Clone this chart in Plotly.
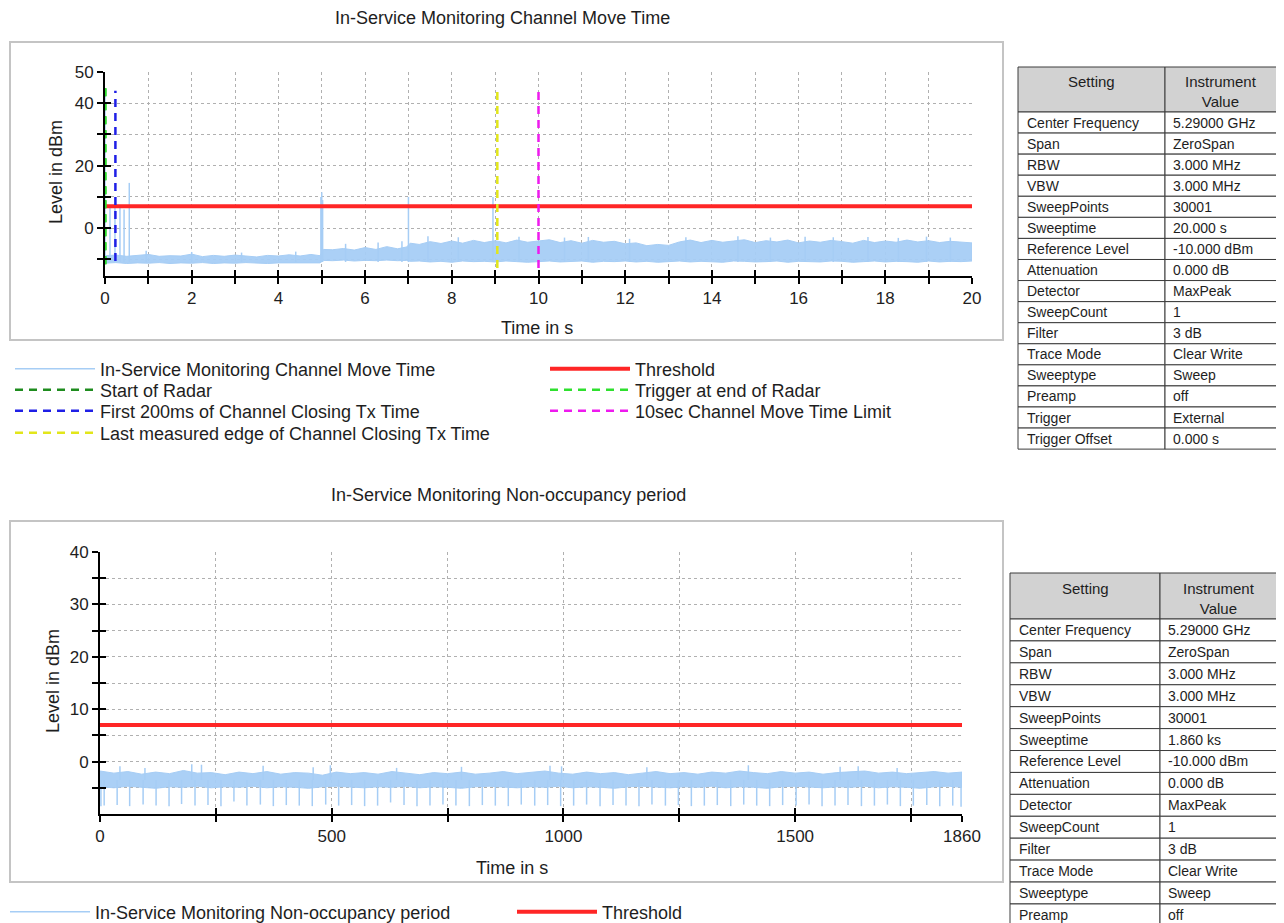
import plotly.graph_objects as go

# The page body adds an 8 px margin, so the figure is sized to the visible window
# minus that margin and reference pixel positions are converted accordingly.
PAGE_OFF = 8
W, H = 1284 - PAGE_OFF, 923 - PAGE_OFF
FONT = "Liberation Sans, Arial, sans-serif"


def px(x):
    return (x - PAGE_OFF) / W


def py(y):
    return 1 - (y - PAGE_OFF) / H


# ---------------- Chart 1 data: In-Service Monitoring Channel Move Time ----------------
cmt_time = [0.00, 0.25, 0.50, 0.75, 1.00, 1.25, 1.50, 1.75, 2.00, 2.25,
            2.50, 2.75, 3.00, 3.25, 3.50, 3.75, 4.00, 4.25, 4.50, 4.75,
            4.96, 5.04,
            5.25, 5.50, 5.75, 6.00, 6.25, 6.50, 6.75,
            6.96, 7.04,
            7.25, 7.50, 7.75, 8.00, 8.25, 8.50, 8.75, 9.00, 9.25, 9.50,
            9.75, 10.00, 10.25, 10.50, 10.75, 11.00, 11.25, 11.50, 11.75, 12.00,
            12.25, 12.50, 12.75, 13.00, 13.25, 13.50, 13.75, 14.00, 14.25, 14.50,
            14.75, 15.00, 15.25, 15.50, 15.75, 16.00, 16.25, 16.50, 16.75, 17.00,
            17.25, 17.50, 17.75, 18.00, 18.25, 18.50, 18.75, 19.00, 19.25, 19.50,
            19.75, 20.00]
cmt_upper = [-8.8, -8.6, -9.0, -8.7, -8.4, -9.0, -8.8, -8.9, -8.3, -9.1,
             -8.7, -9.0, -8.6, -8.9, -9.2, -8.7, -8.9, -8.5, -8.9, -8.4,
             -8.8, -6.8,
             -6.9, -6.5, -7.0, -6.2, -6.8, -5.9, -6.6,
             -6.0, -4.8,
             -5.2, -4.3, -4.9, -4.1, -4.8, -3.9, -4.6, -4.0, -4.7, -3.8,
             -4.5, -4.2, -3.7, -4.6, -4.0, -4.8, -3.9, -4.5, -4.2, -5.0,
             -4.7, -5.6, -5.2, -5.5, -4.4, -3.8, -4.6, -3.9, -4.5, -4.1,
             -3.7, -4.6, -4.0, -4.4, -3.8, -4.7, -4.1, -4.5, -3.9, -4.3,
             -4.8, -3.9, -4.6, -4.1, -4.5, -3.8, -4.4, -4.0, -4.6, -4.2,
             -4.5, -4.7]
cmt_lower = [-11.2, -11.0, -11.3, -11.1, -11.2, -11.0, -11.3, -11.1, -11.2, -11.0,
             -11.3, -11.1, -11.2, -11.0, -11.2, -11.3, -11.1, -11.0, -11.2, -11.1,
             -11.1, -10.3,
             -10.4, -10.2, -10.5, -10.3, -10.4, -10.2, -10.4,
             -10.3, -10.6,
             -10.5, -10.8, -10.6, -10.9, -10.5, -10.7, -10.6, -10.8, -10.5, -10.7,
             -10.9, -10.6, -10.5, -10.8, -10.7, -10.5, -10.9, -10.6, -10.7, -10.5,
             -10.8, -10.6, -10.9, -10.7, -10.5, -10.8, -10.6, -10.7, -10.9, -10.5,
             -10.6, -10.8, -10.7, -10.5, -10.9, -10.6, -10.7, -10.8, -10.5, -10.6,
             -10.9, -10.7, -10.5, -10.8, -10.6, -10.7, -10.9, -10.5, -10.8, -10.6,
             -10.7, -10.5]
cmt_floor = -10.8
cmt_spike_time = [0.00, 0.115, 0.23, 0.345, 0.44, 0.56, 0.95, 2.00, 3.15, 4.40,
                  4.98, 5.00, 5.02, 5.55, 6.30, 6.85, 7.00, 7.45, 8.15, 8.95,
                  9.55, 10.60, 11.15, 12.10, 13.40, 14.60, 15.35, 16.15, 16.80, 17.60,
                  18.30, 18.95, 19.50]
cmt_spike_peak = [44.0, 7.0, 7.2, 7.0, 6.0, 14.5, -7.2, -7.6, -7.8, -7.5,
                  10.0, 11.5, 9.0, -5.0, -4.6, -4.2, 10.0, -2.6, -2.9, 10.0,
                  -2.7, -3.0, -2.8, -3.4, -2.9, -2.6, -3.0, -2.7, -2.9, -2.8,
                  -3.1, -2.7, -3.0]
cmt_threshold = 7.0
cmt_time_range = [0, 20]

marker_names = ["Start of Radar", "Trigger at end of Radar",
                "First 200ms of Channel Closing Tx Time",
                "Last measured edge of Channel Closing Tx Time",
                "10sec Channel Move Time Limit"]
marker_time = [0.0, 0.01, 0.24, 9.05, 10.0]
marker_low = [-11.5, -11.5, -10.5, -12.7, -12.7]
marker_high = [45.0, 45.0, 44.0, 45.0, 45.0]
marker_colors = ["#1e8c1e", "#2ee02e", "#1f1fe6", "#e2e61a", "#ee1aee"]
marker_legend = ["legend2", "legend6", "legend3", "legend4", "legend7"]

cmt_xticks = list(range(0, 21))
cmt_xticklabels = [str(v) if v % 2 == 0 else "" for v in cmt_xticks]
cmt_yticks = [-10, 0, 10, 20, 30, 40, 50]
cmt_yticklabels = ["", "0", "", "20", "", "40", "50"]

# ---------------- Chart 2 data: Non-occupancy period ----------------
nop_time = [0, 30, 60, 90, 120, 150, 180, 210, 240, 270,
            300, 330, 360, 390, 420, 450, 480, 510, 540, 570,
            600, 630, 660, 690, 720, 750, 780, 810, 840, 870,
            900, 930, 960, 990, 1020, 1050, 1080, 1110, 1140, 1170,
            1200, 1230, 1260, 1290, 1320, 1350, 1380, 1410, 1440, 1470,
            1500, 1530, 1560, 1590, 1620, 1650, 1680, 1710, 1740, 1770,
            1800, 1830, 1860]
nop_upper = [-1.8, -2.2, -1.9, -2.4, -2.0, -2.3, -1.7, -2.2, -2.1, -2.5,
             -2.0, -2.3, -1.9, -2.4, -2.1, -2.2, -2.6, -2.0, -2.3, -2.1,
             -2.4, -1.9, -2.2, -2.5, -2.1, -2.3, -2.0, -2.4, -2.2, -1.9,
             -2.3, -2.1, -1.8, -2.2, -2.4, -2.0, -2.3, -2.1, -2.5, -2.2,
             -1.9, -2.3, -2.1, -2.4, -2.0, -2.2, -1.8, -2.1, -2.3, -1.9,
             -2.2, -2.0, -2.4, -2.1, -1.9, -1.8, -2.2, -2.0, -2.3, -2.1,
             -1.9, -2.2, -2.0]
nop_lower = [-4.8, -5.0, -4.7, -4.9, -5.1, -4.8, -4.9, -4.7, -5.0, -4.8,
             -4.9, -4.7, -5.0, -4.8, -4.9, -5.1, -4.8, -4.7, -4.9, -5.0,
             -4.8, -4.9, -4.7, -5.0, -4.8, -4.9, -5.1, -4.8, -4.7, -4.9,
             -5.0, -4.8, -4.9, -4.7, -5.0, -4.8, -4.9, -5.1, -4.8, -4.7,
             -4.9, -5.0, -4.8, -4.9, -4.7, -5.0, -4.8, -4.9, -5.1, -4.8,
             -4.7, -4.9, -5.0, -4.8, -4.9, -4.7, -5.0, -4.8, -4.9, -5.1,
             -4.8, -4.7, -4.9]
nop_dip_time = [2, 9, 37, 64, 93, 121, 149, 176, 205, 233,
                261, 289, 317, 346, 374, 402, 430, 458, 487, 515,
                543, 571, 599, 627, 656, 684, 712, 740, 768, 797,
                825, 853, 881, 909, 938, 966, 994, 1022, 1050, 1079,
                1107, 1135, 1163, 1191, 1220, 1248, 1276, 1304, 1332, 1361,
                1389, 1417, 1445, 1473, 1502, 1530, 1558, 1586, 1614, 1643,
                1671, 1699, 1727, 1755, 1784, 1812, 1840, 1858]
nop_dip_level = [-8.5, -8.4, -8.3, -8.5, -8.2, -8.4, -8.5, -8.1, -8.4, -8.3,
                 -8.5, -7.6, -8.4, -8.2, -8.5, -8.3, -8.4, -8.5, -8.2, -8.4,
                 -8.3, -8.5, -8.4, -7.8, -8.3, -8.5, -8.4, -8.2, -8.4, -8.5,
                 -8.3, -8.4, -8.5, -8.2, -8.4, -8.3, -8.5, -8.4, -8.2, -8.5,
                 -8.3, -8.4, -8.5, -8.2, -8.4, -8.3, -8.5, -8.4, -8.3, -8.5,
                 -8.2, -8.4, -8.5, -8.3, -8.4, -8.2, -8.5, -8.4, -8.3, -8.5,
                 -8.4, -8.2, -8.5, -8.4, -8.3, -8.5, -8.4, -8.6]
nop_peak_time = [43, 97, 198, 219, 352, 460, 497, 640, 780, 971,
                 996, 1180, 1399, 1597, 1636, 1720]
nop_peak_level = [-0.9, -1.2, -0.5, -0.6, -0.8, -1.1, -0.7, -1.2, -1.0, -0.8,
                  -0.9, -1.1, -0.7, -1.0, -0.9, -1.2]
nop_mid = -3.5
nop_threshold = 7.0
nop_time_range = [0, 1860]
nop_xticks = [0, 250, 500, 750, 1000, 1250, 1500, 1750, 1860]
nop_xticklabels = ["0", "", "500", "", "1000", "", "1500", "", "1860"]
nop_yticks = [-5, 0, 5, 10, 15, 20, 25, 30, 35, 40]
nop_yticklabels = ["", "0", "", "10", "", "20", "", "30", "", "40"]

# ---------------- Settings tables ----------------
table_header = ["Setting", "Instrument<br>Value"]
setting_names_1 = ["Center Frequency", "Span", "RBW", "VBW", "SweepPoints", "Sweeptime",
                   "Reference Level", "Attenuation", "Detector", "SweepCount", "Filter",
                   "Trace Mode", "Sweeptype", "Preamp", "Trigger", "Trigger Offset"]
setting_values_1 = ["5.29000 GHz", "ZeroSpan", "3.000 MHz", "3.000 MHz", "30001", "20.000 s",
                    "-10.000 dBm", "0.000 dB", "MaxPeak", "1", "3 dB",
                    "Clear Write", "Sweep", "off", "External", "0.000 s"]
setting_names_2 = ["Center Frequency", "Span", "RBW", "VBW", "SweepPoints", "Sweeptime",
                   "Reference Level", "Attenuation", "Detector", "SweepCount", "Filter",
                   "Trace Mode", "Sweeptype", "Preamp"]
setting_values_2 = ["5.29000 GHz", "ZeroSpan", "3.000 MHz", "3.000 MHz", "30001", "1.860 ks",
                    "-10.000 dBm", "0.000 dB", "MaxPeak", "1", "3 dB",
                    "Clear Write", "Sweep", "off"]

TRACE_BLUE = "#a6cdf5"
BAND_BLUE = "rgba(166,205,245,0.95)"
RED = "#ff2626"
TXT = "#1e1e1e"

fig = go.Figure()

# ---- chart 1 traces ----
fig.add_trace(go.Scatter(
    x=cmt_time + cmt_time[::-1], y=cmt_upper + cmt_lower[::-1],
    fill="toself", fillcolor=BAND_BLUE, mode="lines",
    line=dict(color=TRACE_BLUE, width=1), showlegend=False, hoverinfo="skip",
    xaxis="x", yaxis="y"))
sx, sy = [], []
for t, p in zip(cmt_spike_time, cmt_spike_peak):
    sx += [t, t, None]
    sy += [cmt_floor, p, None]
fig.add_trace(go.Scatter(
    x=sx, y=sy, mode="lines", line=dict(color=TRACE_BLUE, width=1.5),
    name="In-Service Monitoring Channel Move Time", legend="legend",
    xaxis="x", yaxis="y"))
fig.add_trace(go.Scatter(
    x=cmt_time_range, y=[cmt_threshold, cmt_threshold], mode="lines",
    line=dict(color=RED, width=4), name="Threshold", legend="legend5",
    xaxis="x", yaxis="y"))
for name, t, lo, hi, c, lg in zip(marker_names, marker_time, marker_low, marker_high,
                                  marker_colors, marker_legend):
    fig.add_trace(go.Scatter(
        x=[t, t], y=[lo, hi], mode="lines",
        line=dict(color=c, width=2.5, dash="8px,6px"), name=name, legend=lg,
        xaxis="x", yaxis="y"))

# ---- chart 2 traces ----
fig.add_trace(go.Scatter(
    x=nop_time + nop_time[::-1], y=nop_upper + nop_lower[::-1],
    fill="toself", fillcolor=BAND_BLUE, mode="lines",
    line=dict(color=TRACE_BLUE, width=1), showlegend=False, hoverinfo="skip",
    xaxis="x2", yaxis="y2"))
bx, by = [], []
for t, p in zip(nop_dip_time, nop_dip_level):
    bx += [t, t, None]
    by += [nop_mid, p, None]
for t, p in zip(nop_peak_time, nop_peak_level):
    bx += [t, t, None]
    by += [nop_mid, p, None]
fig.add_trace(go.Scatter(
    x=bx, y=by, mode="lines", line=dict(color=TRACE_BLUE, width=1.5),
    name="In-Service Monitoring Non-occupancy period", legend="legend8",
    xaxis="x2", yaxis="y2"))
fig.add_trace(go.Scatter(
    x=nop_time_range, y=[nop_threshold, nop_threshold], mode="lines",
    line=dict(color=RED, width=4), name="Threshold", legend="legend9",
    xaxis="x2", yaxis="y2"))

# dummy traces for the inside-tick overlay axes
fig.add_trace(go.Scatter(x=[None], y=[None], xaxis="x3", yaxis="y3",
                         showlegend=False, hoverinfo="skip"))
fig.add_trace(go.Scatter(x=[None], y=[None], xaxis="x4", yaxis="y4",
                         showlegend=False, hoverinfo="skip"))

tickfont = dict(family=FONT, size=17, color=TXT)


def main_axis(**kw):
    d = dict(showline=True, linecolor="black", linewidth=2, ticks="outside", ticklen=6,
             tickwidth=2, tickcolor="black", tickfont=tickfont, showgrid=True,
             gridcolor="#b0b0b0", griddash="dot", gridwidth=1, zeroline=False,
             automargin=False)
    d.update(kw)
    return d


def overlay_axis(**kw):
    d = dict(ticks="inside", ticklen=6, tickwidth=2, tickcolor="black",
             showticklabels=False, showgrid=False, showline=False, zeroline=False,
             automargin=False)
    d.update(kw)
    return d


x1_dom = [px(105), px(972)]
y1_dom = [py(276), py(72)]
x2_dom = [px(100), px(962)]
y2_dom = [py(814), py(552)]
y1_range = [-15.3, 50]
y2_range = [-10, 40]

fig.update_layout(
    width=W, height=H,
    margin=dict(l=0, r=0, t=0, b=0, pad=0, autoexpand=False),
    paper_bgcolor="white", plot_bgcolor="rgba(0,0,0,0)",
    font=dict(family=FONT, color=TXT),
    xaxis=main_axis(domain=x1_dom, range=cmt_time_range, anchor="y",
                    tickvals=cmt_xticks, ticktext=cmt_xticklabels),
    yaxis=main_axis(domain=y1_dom, range=y1_range, anchor="x",
                    tickvals=cmt_yticks, ticktext=cmt_yticklabels),
    xaxis3=overlay_axis(overlaying="x", anchor="y", range=cmt_time_range,
                        tickvals=cmt_xticks),
    yaxis3=overlay_axis(overlaying="y", anchor="x", range=y1_range,
                        tickvals=cmt_yticks),
    xaxis2=main_axis(domain=x2_dom, range=nop_time_range, anchor="y2",
                     tickvals=nop_xticks, ticktext=nop_xticklabels),
    yaxis2=main_axis(domain=y2_dom, range=y2_range, anchor="x2",
                     tickvals=nop_yticks, ticktext=nop_yticklabels),
    xaxis4=overlay_axis(overlaying="x2", anchor="y2", range=nop_time_range,
                        tickvals=nop_xticks),
    yaxis4=overlay_axis(overlaying="y2", anchor="x2", range=y2_range,
                        tickvals=nop_yticks),
    showlegend=True,
)

# one legend per entry, placed where the reference shows it (text start x, row centre y)
ITEMW = 80
legend_places = {
    "legend": (101, 369), "legend2": (101, 390), "legend3": (101, 411), "legend4": (101, 433),
    "legend5": (636, 369), "legend6": (636, 390), "legend7": (636, 411),
    "legend8": (96, 912), "legend9": (603, 912),
}
for key, (tx, ty) in legend_places.items():
    fig.update_layout({key: dict(
        x=px(tx - ITEMW - 11), y=py(ty), xanchor="left", yanchor="middle",
        bgcolor="rgba(0,0,0,0)", borderwidth=0, itemwidth=ITEMW,
        font=dict(family=FONT, size=18, color=TXT))})

# chart frames
for (x0, y0, x1, y1) in [(10, 42, 1003, 340), (10, 521, 1003, 882)]:
    fig.add_shape(type="rect", xref="paper", yref="paper",
                  x0=px(x0), x1=px(x1), y0=py(y1), y1=py(y0),
                  line=dict(color="#c4c4c4", width=2), layer="below")


def label(text, x, y, size=17, angle=0, xanchor="center"):
    fig.add_annotation(text=text, xref="paper", yref="paper", x=px(x), y=py(y),
                       xanchor=xanchor, yanchor="middle", showarrow=False, textangle=angle,
                       font=dict(family=FONT, size=size, color=TXT))


# titles and axis titles
label("In-Service Monitoring Channel Move Time", 502, 18, size=18)
label("In-Service Monitoring Non-occupancy period", 508, 495, size=18)
label("Time in s", 537, 328, size=18)
label("Time in s", 512, 868, size=18)
label("Level in dBm", 56, 172, size=18, angle=-90)
label("Level in dBm", 53, 681, size=18, angle=-90)


# settings tables drawn as cells
def draw_table(x0, xs, x1, top, head_h, row_h, names, values):
    line = dict(color="#3c3c3c", width=1)
    fig.add_shape(type="rect", xref="paper", yref="paper", x0=px(x0), x1=px(xs),
                  y0=py(top + head_h), y1=py(top), fillcolor="#d2d2d2", line=line)
    fig.add_shape(type="rect", xref="paper", yref="paper", x0=px(xs), x1=px(x1),
                  y0=py(top + head_h), y1=py(top), fillcolor="#d2d2d2", line=line)
    label(table_header[0], (x0 + xs) / 2, top + 15, size=15)
    label(table_header[1], (xs + x1) / 2, top + 25, size=15)
    for i, (n, v) in enumerate(zip(names, values)):
        ry0 = top + head_h + i * row_h
        ry1 = ry0 + row_h
        for (cx0, cx1) in [(x0, xs), (xs, x1)]:
            fig.add_shape(type="rect", xref="paper", yref="paper", x0=px(cx0), x1=px(cx1),
                          y0=py(ry1), y1=py(ry0), fillcolor="white", line=line)
        label(n, x0 + 7, (ry0 + ry1) / 2, size=14, xanchor="left")
        label(v, xs + 6, (ry0 + ry1) / 2, size=14, xanchor="left")


draw_table(1018, 1165, 1277, 67, 45, 21.07, setting_names_1, setting_values_1)
draw_table(1010, 1160, 1277, 573, 46, 21.92, setting_names_2, setting_values_2)

fig.write_html("out.html")
